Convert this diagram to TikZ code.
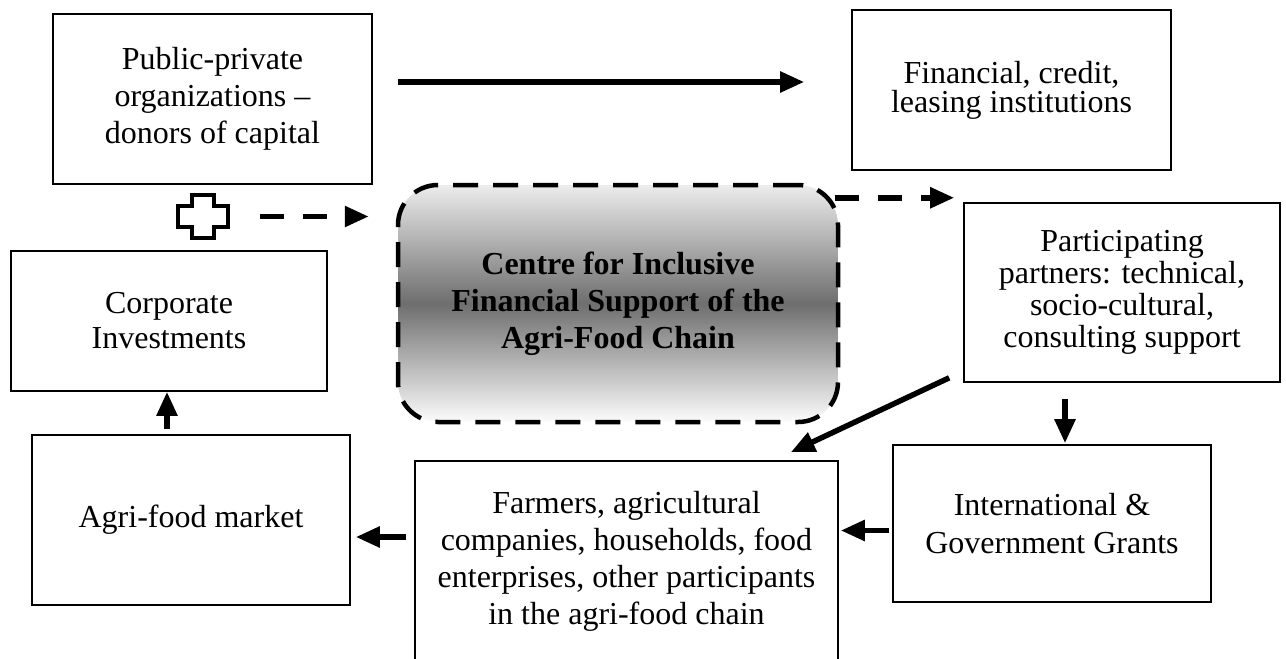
\documentclass[tikz,border=0pt]{standalone}
\usepackage{fontspec}
\setmainfont{Liberation Serif}
\usetikzlibrary{arrows.meta, positioning}
\definecolor{lineBlack}{RGB}{0,0,0}
\definecolor{hubTop}{RGB}{236,236,236}
\definecolor{hubMid}{RGB}{110,110,110}
\definecolor{hubBottom}{RGB}{252,252,252}

\begin{document}
\begin{tikzpicture}[
    x=1pt, y=-1pt,
    % Plain actor box, sized per node
    actor/.style={
        rectangle, draw=lineBlack, fill=white,
        line width=1.6pt, inner sep=0pt,
        align=center,
        font=\fontsize{32}{37}\selectfont
    },
    % Central hub: dashed rounded box with grey band
    hub/.style={
        rectangle, rounded corners=40pt,
        draw=lineBlack, line width=4.5pt,
        dash pattern=on 25pt off 15pt,
        top color=hubTop, bottom color=hubBottom, middle color=hubMid,
        inner sep=0pt, align=center,
        font=\fontsize{32}{37}\selectfont\bfseries
    },
    flow/.style={-{Triangle[length=24pt,width=20pt]},
                 line width=5.5pt, draw=lineBlack},
    dflow/.style={flow, dash pattern=on 24pt off 19pt}
]
\useasboundingbox (0,0) rectangle (1286,659);
% ── TOP ROW ───────────────────────────────────────────────────
\node[actor, minimum width=319pt, minimum height=170pt]
    (donors)    at (212.5, 99.0) {Public-private\\
                                  organizations --\\
                                  donors of capital};
\node[actor, minimum width=319pt, minimum height=160pt,
      font=\fontsize{32}{29}\selectfont]
    (finance)   at (1011.5, 90.0) {Financial, credit,\\
                                   leasing institutions};
% ── MIDDLE ROW ────────────────────────────────────────────────
\node[minimum width=50pt, minimum height=43pt, inner sep=0pt]
    (plus)      at (203.0, 216.5) {};
\node[hub, minimum width=440pt, minimum height=237pt]
    (hub)       at (618.0, 303.5) {Centre for Inclusive\\
                                   Financial Support of the\\
                                   Agri-Food Chain};
\node[actor, minimum width=316pt, minimum height=179pt,
      font=\fontsize{32}{32}\selectfont]
    (partners)  at (1122.0, 292.5) {Participating\\
                                    partners: technical,\\
                                    socio-cultural,\\
                                    consulting support};
\node[actor, minimum width=316pt, minimum height=140pt,
      font=\fontsize{32}{35}\selectfont]
    (corporate) at (169.0, 321.0) {Corporate\\
                                   Investments};
% ── BOTTOM ROW ────────────────────────────────────────────────
\node[actor, minimum width=318pt, minimum height=170pt]
    (market)    at (191.0, 520.0) {Agri-food market};
\node[actor, minimum width=423pt, minimum height=201pt]
    (farmers)   at (626.5, 561.5) {Farmers, agricultural\\
                                   companies, households, food\\
                                   enterprises, other participants\\
                                   in the agri-food chain};
\node[actor, minimum width=318pt, minimum height=157pt,
      font=\fontsize{32}{38}\selectfont]
    (grants)    at (1052.0, 523.5) {International \&\\
                                    Government Grants};
% Plus sign drawn as an outlined cross
\draw[line width=3.5pt, line join=miter, shift={(plus.center)}]
    (-11,-21.5) -- (11,-21.5) -- (11,-10.5) -- (25,-10.5) -- (25,10.5)
    -- (11,10.5) -- (11,21.5) -- (-11,21.5) -- (-11,10.5) -- (-25,10.5)
    -- (-25,-10.5) -- (-11,-10.5) -- cycle;
% ── ARROWS ────────────────────────────────────────────────────
% Capital flows to the financial institutions
\coordinate (dE) at ([yshift=17pt]donors.east);
\draw[flow, shorten <=25pt, shorten >=47pt] (dE) -- (dE -| finance.west);
% Dashed links into and out of the hub
\draw[dflow, shorten <=32pt, shorten >=27pt]
    (plus.east) -- (plus.east -| hub.west);
\coordinate (hNE) at ([xshift=-5pt, yshift=-15pt]hub.north east);
\draw[dflow, shorten >=9pt] (hNE) -- (hNE -| partners.west);
% Partners support the chain participants
\draw[flow] ([shift={(-14pt,5pt)}]partners.south west)
    -- ([shift={(-48pt,8pt)}]farmers.north east);
\coordinate (gN) at ([xshift=13pt]grants.north);
\draw[flow, shorten <=16pt, shorten >=1pt] (gN |- partners.south) -- (gN);
% Grants -> farmers -> market -> corporate investments
\coordinate (gW) at ([yshift=-7pt]grants.west);
\draw[flow, shorten <=3pt, shorten >=2pt] (gW) -- (gW -| farmers.east);
\coordinate (fW) at ([yshift=24.5pt]farmers.west);
\draw[flow, shorten <=8pt, shorten >=5pt] (fW) -- (fW -| market.east);
\coordinate (mN) at ([xshift=-24pt]market.north);
\draw[flow, shorten <=5pt] (mN) -- (mN |- corporate.south);
\end{tikzpicture}
\end{document}
